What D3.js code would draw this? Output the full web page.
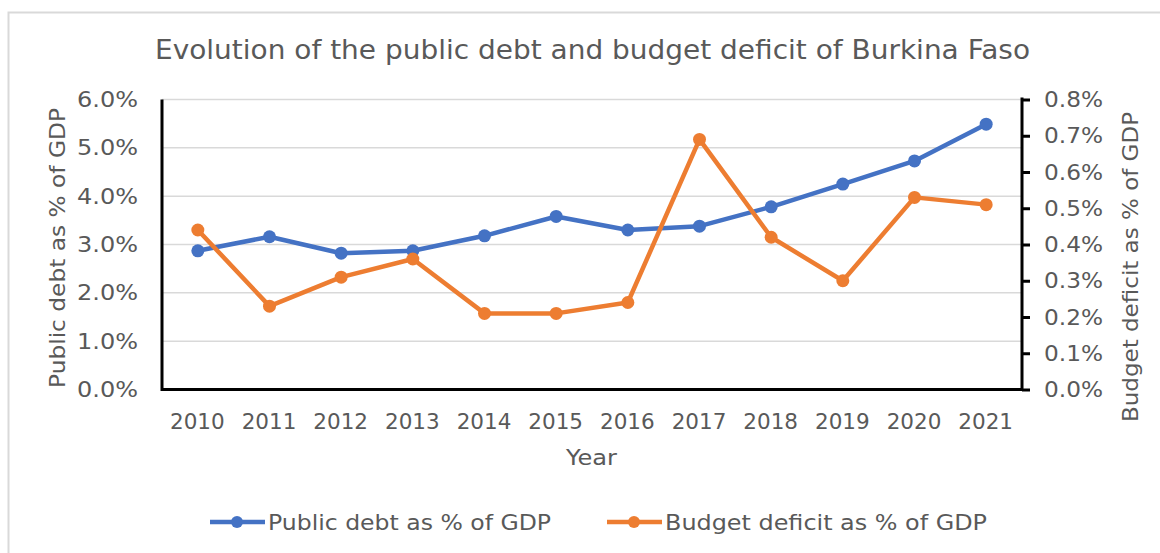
<!DOCTYPE html>
<html>
<head>
<meta charset="utf-8">
<script src="https://cdn.jsdelivr.net/npm/d3@7"></script>
<style>
  html, body { margin: 0; padding: 0; background: #fff; }
  svg { display: block; font-family: "DejaVu Sans", Verdana, sans-serif; }
  text { fill: #595959; }
</style>
</head>
<body>
<svg id="chart" width="1160" height="553"></svg>
<script>
// Burkina Faso: public debt and budget deficit, % of GDP
const years = ["2010","2011","2012","2013","2014","2015","2016","2017","2018","2019","2020","2021"];
const publicDebt = [2.87, 3.16, 2.82, 2.87, 3.18, 3.58, 3.30, 3.38, 3.78, 4.25, 4.73, 5.49];
const budgetDeficit = [0.44, 0.23, 0.31, 0.36, 0.21, 0.21, 0.24, 0.69, 0.42, 0.30, 0.53, 0.51];
const leftTicks = [0, 1, 2, 3, 4, 5, 6];
const rightTicks = [0, 0.1, 0.2, 0.3, 0.4, 0.5, 0.6, 0.7, 0.8];

const FONT = '"DejaVu Sans", Verdana, sans-serif';
const svg = d3.select("#chart");
const plot = { left: 162, right: 1022, top: 99.5, bottom: 389.5 };
const BLUE = "#4472C4", ORANGE = "#ED7D31";

// outer frame
svg.append("rect")
  .attr("x", 8.5).attr("y", 12.5).attr("width", 1200).attr("height", 600)
  .attr("fill", "none").attr("stroke", "#d9d9d9").attr("stroke-width", 2);

const x = d3.scalePoint().domain(years).range([plot.left, plot.right]).padding(0.5);
const yL = d3.scaleLinear().domain([0, 6]).range([plot.bottom, plot.top]);
const yR = d3.scaleLinear().domain([0, 0.8]).range([plot.bottom, plot.top]);

// title
svg.append("text")
  .attr("x", 155).attr("y", 59)
  .attr("textLength", 875).attr("lengthAdjust", "spacingAndGlyphs")
  .style("font-size", "26px")
  .text("Evolution of the public debt and budget deficit of Burkina Faso");

// horizontal gridlines
svg.append("g").selectAll("line").data(leftTicks.slice(1))
  .join("line")
  .attr("x1", plot.left).attr("x2", plot.right)
  .attr("y1", d => yL(d)).attr("y2", d => yL(d))
  .attr("stroke", "#d9d9d9").attr("stroke-width", 1.5);

const fmt1 = d3.format(".1f");
const styleTicks = (g, size) => g.attr("font-family", FONT).attr("font-size", size)
  .selectAll("text").attr("fill", "#595959");

// left axis labels
const gL = svg.append("g").attr("transform", `translate(${plot.left},0)`)
  .call(d3.axisLeft(yL).tickValues(leftTicks).tickFormat(d => fmt1(d) + "%").tickSize(0).tickPadding(24));
gL.select(".domain").remove();
styleTicks(gL, 22);
gL.selectAll("text").attr("textLength", 61).attr("lengthAdjust", "spacingAndGlyphs");

// right axis with outward ticks
const gR = svg.append("g").attr("transform", `translate(${plot.right},0)`)
  .call(d3.axisRight(yR).tickValues(rightTicks).tickFormat(d => fmt1(d) + "%").tickSize(8).tickPadding(14));
gR.select(".domain").attr("stroke", "#000").attr("stroke-width", 3).attr("d", `M0,${plot.top - 2}V${plot.bottom}`);
gR.selectAll(".tick line").attr("stroke", "#000").attr("stroke-width", 3);
styleTicks(gR, 22);
gR.selectAll("text").attr("textLength", 59).attr("lengthAdjust", "spacingAndGlyphs");

// bottom axis labels
const gX = svg.append("g").attr("transform", `translate(-1,${plot.bottom})`)
  .call(d3.axisBottom(x).tickSize(0).tickPadding(24));
gX.select(".domain").remove();
styleTicks(gX, 21.5);

// left and bottom axis lines
svg.append("path")
  .attr("d", `M${plot.left},${plot.top}V${plot.bottom}H${plot.right}`)
  .attr("fill", "none").attr("stroke", "#000").attr("stroke-width", 3);

// axis titles
svg.append("text")
  .attr("transform", `translate(65,388) rotate(-90)`)
  .attr("textLength", 280).attr("lengthAdjust", "spacingAndGlyphs")
  .style("font-size", "22px")
  .text("Public debt as % of GDP");
svg.append("text")
  .attr("transform", `translate(1138,422) rotate(-90)`)
  .attr("textLength", 310).attr("lengthAdjust", "spacingAndGlyphs")
  .style("font-size", "22px")
  .text("Budget deficit as % of GDP");
svg.append("text")
  .attr("x", 566).attr("y", 465)
  .attr("textLength", 51).attr("lengthAdjust", "spacingAndGlyphs")
  .style("font-size", "22px")
  .text("Year");

// series
const series = [
  { name: "Public debt as % of GDP", values: publicDebt, scale: yL, color: BLUE, legendX: 210, textLen: 283 },
  { name: "Budget deficit as % of GDP", values: budgetDeficit, scale: yR, color: ORANGE, legendX: 607, textLen: 322 }
];

series.forEach(s => {
  const line = d3.line().x((d, i) => x(years[i])).y(d => s.scale(d));
  svg.append("path")
    .attr("d", line(s.values))
    .attr("fill", "none").attr("stroke", s.color)
    .attr("stroke-width", 4.5).attr("stroke-linejoin", "round");
  svg.append("g").selectAll("circle").data(s.values)
    .join("circle")
    .attr("cx", (d, i) => x(years[i])).attr("cy", d => s.scale(d))
    .attr("r", 6.5).attr("fill", s.color);
});

// legend
const lg = svg.append("g").selectAll("g").data(series).join("g")
  .attr("transform", d => `translate(${d.legendX},522)`);
lg.append("line").attr("x1", 0).attr("x2", 55).attr("y1", 0).attr("y2", 0)
  .attr("stroke", d => d.color).attr("stroke-width", 4.5);
lg.append("circle").attr("cx", 27).attr("cy", 0).attr("r", 6).attr("fill", d => d.color);
lg.append("text").attr("x", 58).attr("y", 8)
  .attr("textLength", d => d.textLen).attr("lengthAdjust", "spacingAndGlyphs")
  .style("font-size", "22px")
  .text(d => d.name);
</script>
</body>
</html>
